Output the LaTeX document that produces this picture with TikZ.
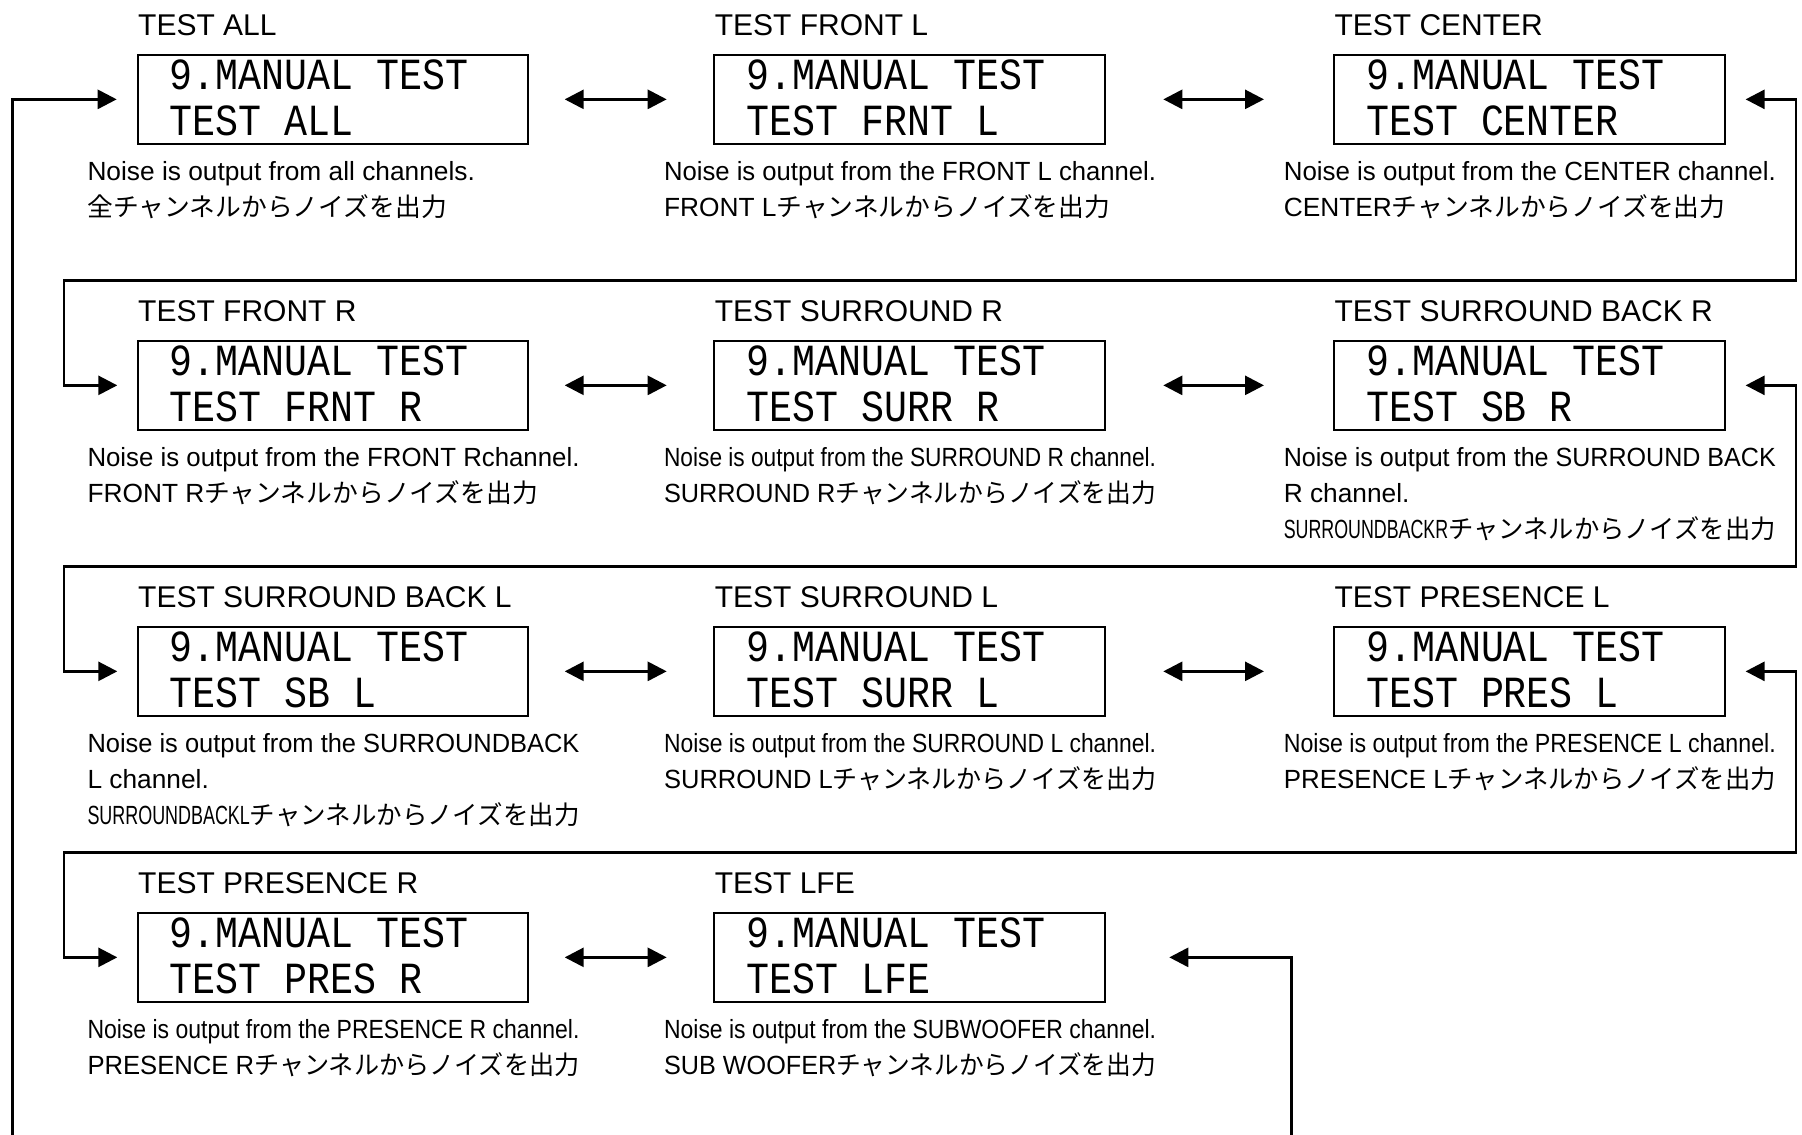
\documentclass[tikz,border=0pt]{standalone}
\usepackage{fontspec}
\usepackage{graphicx}
\setmainfont{Liberation Sans}
\newfontfamily\jpfont{Noto Sans CJK JP}[Scale=0.98]
\newfontfamily\lcdfont{Liberation Mono}[FakeStretch=0.86]
\usetikzlibrary{arrows.meta}

% squeeze a description line to the column width
\newlength\fitw
\newcommand\fitline[1]{\settowidth\fitw{#1}\ifdim\fitw>492pt\resizebox{492pt}{\height}{#1}\else#1\fi}
% lines on their first baseline
\newcommand\rows[1]{\begin{tabular}[t]{@{}l@{}}#1\end{tabular}}

\tikzset{
  lcd/.style={draw, line width=2pt, minimum width=390.6pt, minimum height=88.7pt, inner sep=0pt, anchor=north west},
  lcdtext/.style={anchor=base west, inner sep=0pt, font=\lcdfont\fontsize{44.5}{45.7}\selectfont},
  title/.style={anchor=base west, inner sep=0pt, font=\fontsize{30}{36}\selectfont},
  desc/.style={anchor=base west, inner sep=0pt, font=\fontsize{26.3}{36}\selectfont},
  wire/.style={line width=2.8pt, {Triangle[length=19pt,width=19pt]}-{Triangle[length=19pt,width=19pt]}},
}

\begin{document}
\begin{tikzpicture}[x=1pt, y=-1pt]
    \useasboundingbox (0,0) rectangle (1802,1135);
    \clip (0,0) rectangle (1802,1135);

    % displays
    \node[lcd] (all) at (136.7,54) {};
    \node[lcd] (frontl) at (713.3,54) {};
    \node[lcd] (center) at (1333,54) {};
    \node[lcd] (frontr) at (136.7,340) {};
    \node[lcd] (surrr) at (713.3,340) {};
    \node[lcd] (sbr) at (1333,340) {};
    \node[lcd] (sbl) at (136.7,626) {};
    \node[lcd] (surrl) at (713.3,626) {};
    \node[lcd] (presl) at (1333,626) {};
    \node[lcd] (presr) at (136.7,912) {};
    \node[lcd] (lfe) at (713.3,912) {};

    % row 1
    \node[title] at ([xshift=1.3pt, yshift=18.7pt]all.north west) {TEST ALL};
    \node[lcdtext] at ([xshift=33pt, yshift=-35.3pt]all.north west) {\rows{9.MANUAL TEST\\TEST ALL}};
    \node[desc] at ([xshift=-49.4pt, yshift=-36pt]all.south west)
        {\rows{\fitline{Noise is output from all channels.}\\\fitline{\jpfont 全チャンネルからノイズを出力}}};

    \node[title] at ([xshift=1.3pt, yshift=18.7pt]frontl.north west) {TEST FRONT L};
    \node[lcdtext] at ([xshift=33pt, yshift=-35.3pt]frontl.north west) {\rows{9.MANUAL TEST\\TEST FRNT L}};
    \node[desc] at ([xshift=-49.4pt, yshift=-36pt]frontl.south west)
        {\rows{\fitline{Noise is output from the FRONT L channel.}\\\fitline{FRONT L{\jpfont チャンネルからノイズを出力}}}};

    \node[title] at ([xshift=1.3pt, yshift=18.7pt]center.north west) {TEST CENTER};
    \node[lcdtext] at ([xshift=33pt, yshift=-35.3pt]center.north west) {\rows{9.MANUAL TEST\\TEST CENTER}};
    \node[desc] at ([xshift=-49.4pt, yshift=-36pt]center.south west)
        {\rows{\fitline{Noise is output from the CENTER channel.}\\\fitline{CENTER{\jpfont チャンネルからノイズを出力}}}};

    % row 2
    \node[title] at ([xshift=1.3pt, yshift=18.7pt]frontr.north west) {TEST FRONT R};
    \node[lcdtext] at ([xshift=33pt, yshift=-35.3pt]frontr.north west) {\rows{9.MANUAL TEST\\TEST FRNT R}};
    \node[desc] at ([xshift=-49.4pt, yshift=-36pt]frontr.south west)
        {\rows{\fitline{Noise is output from the FRONT Rchannel.}\\\fitline{FRONT R{\jpfont チャンネルからノイズを出力}}}};

    \node[title] at ([xshift=1.3pt, yshift=18.7pt]surrr.north west) {TEST SURROUND R};
    \node[lcdtext] at ([xshift=33pt, yshift=-35.3pt]surrr.north west) {\rows{9.MANUAL TEST\\TEST SURR R}};
    \node[desc] at ([xshift=-49.4pt, yshift=-36pt]surrr.south west)
        {\rows{\fitline{Noise is output from the SURROUND R channel.}\\\fitline{SURROUND R{\jpfont チャンネルからノイズを出力}}}};

    \node[title] at ([xshift=1.3pt, yshift=18.7pt]sbr.north west) {TEST SURROUND BACK R};
    \node[lcdtext] at ([xshift=33pt, yshift=-35.3pt]sbr.north west) {\rows{9.MANUAL TEST\\TEST SB R}};
    \node[desc] at ([xshift=-49.4pt, yshift=-36pt]sbr.south west)
        {\rows{\fitline{Noise is output from the SURROUND BACK}\\\fitline{R channel.}\\
         \fitline{\scalebox{0.69}[1]{SURROUNDBACKR}{\jpfont チャンネルからノイズを出力}}}};

    % row 3
    \node[title] at ([xshift=1.3pt, yshift=18.7pt]sbl.north west) {TEST SURROUND BACK L};
    \node[lcdtext] at ([xshift=33pt, yshift=-35.3pt]sbl.north west) {\rows{9.MANUAL TEST\\TEST SB L}};
    \node[desc] at ([xshift=-49.4pt, yshift=-36pt]sbl.south west)
        {\rows{\fitline{Noise is output from the SURROUNDBACK}\\\fitline{L channel.}\\
         \fitline{\scalebox{0.69}[1]{SURROUNDBACKL}{\jpfont チャンネルからノイズを出力}}}};

    \node[title] at ([xshift=1.3pt, yshift=18.7pt]surrl.north west) {TEST SURROUND L};
    \node[lcdtext] at ([xshift=33pt, yshift=-35.3pt]surrl.north west) {\rows{9.MANUAL TEST\\TEST SURR L}};
    \node[desc] at ([xshift=-49.4pt, yshift=-36pt]surrl.south west)
        {\rows{\fitline{Noise is output from the SURROUND L channel.}\\\fitline{SURROUND L{\jpfont チャンネルからノイズを出力}}}};

    \node[title] at ([xshift=1.3pt, yshift=18.7pt]presl.north west) {TEST PRESENCE L};
    \node[lcdtext] at ([xshift=33pt, yshift=-35.3pt]presl.north west) {\rows{9.MANUAL TEST\\TEST PRES L}};
    \node[desc] at ([xshift=-49.4pt, yshift=-36pt]presl.south west)
        {\rows{\fitline{Noise is output from the PRESENCE L channel.}\\\fitline{PRESENCE L{\jpfont チャンネルからノイズを出力}}}};

    % row 4
    \node[title] at ([xshift=1.3pt, yshift=18.7pt]presr.north west) {TEST PRESENCE R};
    \node[lcdtext] at ([xshift=33pt, yshift=-35.3pt]presr.north west) {\rows{9.MANUAL TEST\\TEST PRES R}};
    \node[desc] at ([xshift=-49.4pt, yshift=-36pt]presr.south west)
        {\rows{\fitline{Noise is output from the PRESENCE R channel.}\\\fitline{PRESENCE R{\jpfont チャンネルからノイズを出力}}}};

    \node[title] at ([xshift=1.3pt, yshift=18.7pt]lfe.north west) {TEST LFE};
    \node[lcdtext] at ([xshift=33pt, yshift=-35.3pt]lfe.north west) {\rows{9.MANUAL TEST\\TEST LFE}};
    \node[desc] at ([xshift=-49.4pt, yshift=-36pt]lfe.south west)
        {\rows{\fitline{Noise is output from the SUBWOOFER channel.}\\\fitline{SUB WOOFER{\jpfont チャンネルからノイズを出力}}}};

    % connectors
    \coordinate (rx) at (1796,0);
    \coordinate (lx) at (64,0);
    \coordinate (ox) at (12.3,0);
    \coordinate (fx) at (1291.3,0);
    \coordinate (ret1) at (0,280.5);
    \coordinate (ret2) at (0,566.5);
    \coordinate (ret3) at (0,852.5);
    \coordinate (ret4) at (0,1160); % below the page

    \draw[wire, shorten <=35.4pt, shorten >=46.6pt] (all) -- (frontl);
    \draw[wire, shorten <=57.4pt, shorten >=69pt] (frontl) -- (center);
    \draw[wire, shorten <=35.4pt, shorten >=46.6pt] (frontr) -- (surrr);
    \draw[wire, shorten <=57.4pt, shorten >=69pt] (surrr) -- (sbr);
    \draw[wire, shorten <=35.4pt, shorten >=46.6pt] (sbl) -- (surrl);
    \draw[wire, shorten <=57.4pt, shorten >=69pt] (surrl) -- (presl);
    \draw[wire, shorten <=35.4pt, shorten >=46.6pt] (presr) -- (lfe);

    \draw[wire, shorten <=20pt, shorten >=19.4pt] (center.east) -- (center.east -| rx) -- (rx |- ret1)
        -- (lx |- ret1) -- (lx |- frontr.west) -- (frontr.west);
    \draw[wire, shorten <=20pt, shorten >=19.4pt] (sbr.east) -- (sbr.east -| rx) -- (rx |- ret2)
        -- (lx |- ret2) -- (lx |- sbl.west) -- (sbl.west);
    \draw[wire, shorten <=20pt, shorten >=19.4pt] (presl.east) -- (presl.east -| rx) -- (rx |- ret3)
        -- (lx |- ret3) -- (lx |- presr.west) -- (presr.west);

    % back to the start
    \draw[wire, shorten <=63.4pt, shorten >=20pt] (lfe.east) -- (lfe.east -| fx) -- (fx |- ret4)
        -- (ox |- ret4) -- (ox |- all.west) -- (all.west);
\end{tikzpicture}
\end{document}
